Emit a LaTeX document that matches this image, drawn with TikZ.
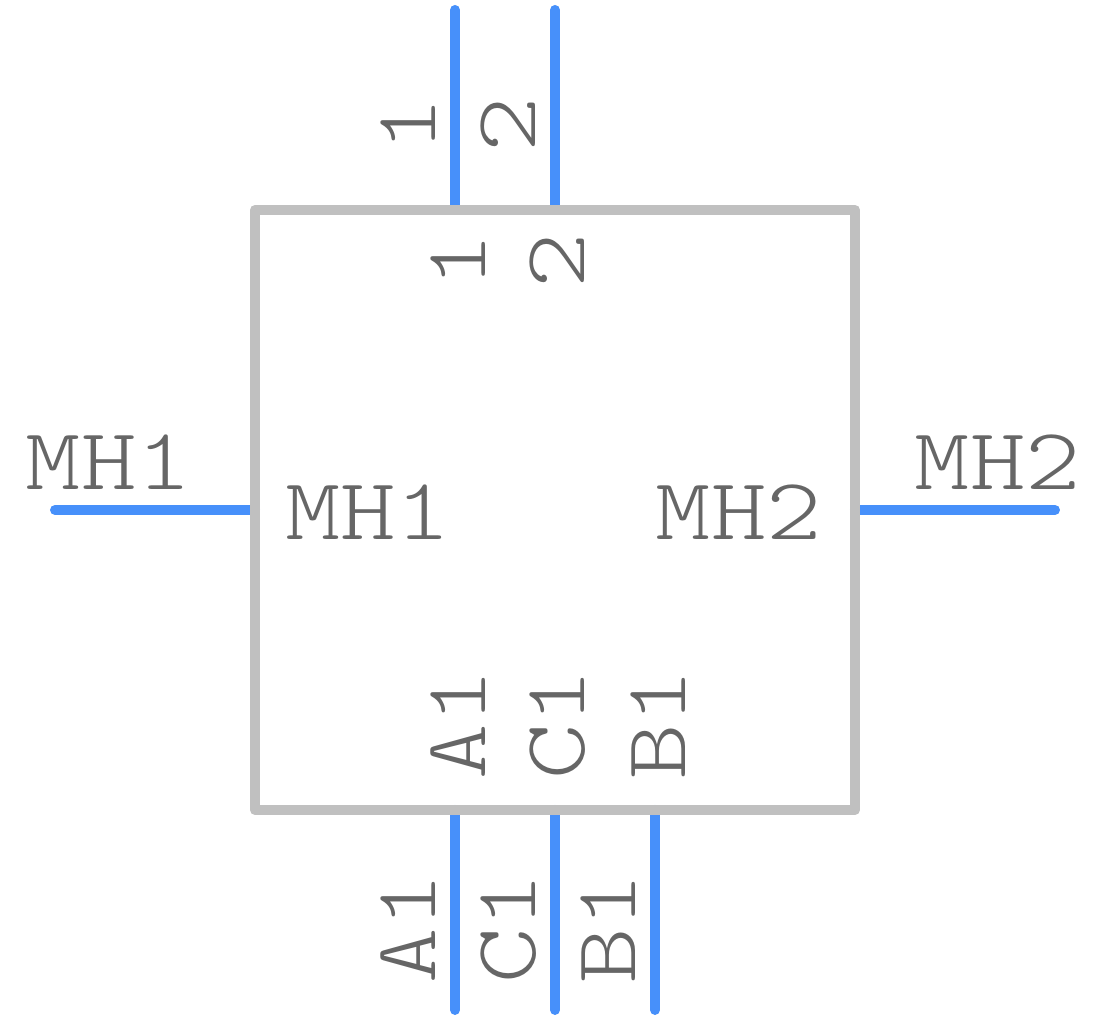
\documentclass[tikz,border=0pt]{standalone}
\usepackage{fontspec}
\newfontfamily\pinfont[FakeStretch=1.2]{lmmonolt10-regular.otf}
\definecolor{pinblue}{HTML}{4790FA}
\definecolor{boxgray}{HTML}{C0C0C0}
\definecolor{labelgray}{HTML}{666666}
\tikzset{
    pinline/.style={line width=.1cm, pinblue, line cap=round},
    pinlabel/.style={inner sep=0pt, outer sep=0pt, labelgray, font=\pinfont\fontsize{25}{25}\selectfont},
    vlabel/.style={pinlabel, rotate=90, anchor=base west},
    hlabel/.style={pinlabel, anchor=base west}
}
\begin{document}
\begin{tikzpicture}
\useasboundingbox (0,0) rectangle (11.1,10.2);
\node[minimum size=6cm, inner sep=0pt, outer sep=0pt] (body) at (5.55,5.1) {};
% top and bottom pins
\foreach \n/\x in {1/4.55,2/5.55}
{
    \coordinate (top\n) at (\x,8.1);
    \coordinate (topend\n) at (\x,10.1);
    \draw[pinline] (top\n)--(topend\n);
}
\foreach \n/\x in {A1/4.55,C1/5.55,B1/6.55}
{
    \coordinate (bot\n) at (\x,2.1);
    \coordinate (botend\n) at (\x,.1);
    \draw[pinline] (bot\n)--(botend\n);
}
% side pins
\coordinate (leftend) at (.55,5.1);
\coordinate (rightend) at (10.55,5.1);
\draw[pinline] (body.west)--(leftend);
\draw[pinline] (body.east)--(rightend);
\draw[boxgray, line width=.1cm, line join=round] (body.north west) rectangle (body.south east);
% labels
\foreach \n/\x in {1/4.35,2/5.35}
{
    \node[vlabel] (toptext\n) at (\x,8.67) {\n};
    \node[vlabel] (topin\n) at (\x+.5,7.31) {\n};
}
\foreach \n/\x in {A1/4.35,C1/5.35,B1/6.35}
{
    \node[vlabel] (bottext\n) at (\x,.36) {\n};
    \node[vlabel] (botin\n) at (\x+.5,2.4) {\n};
}
\node[hlabel] (mhoutA) at (.26,5.3) {MH1};
\node[hlabel] (mhinA) at (2.85,4.8) {MH1};
\node[hlabel] (mhoutB) at (9.15,5.3) {MH2};
\node[hlabel] (mhinB) at (6.56,4.8) {MH2};
\end{tikzpicture}
\end{document}
